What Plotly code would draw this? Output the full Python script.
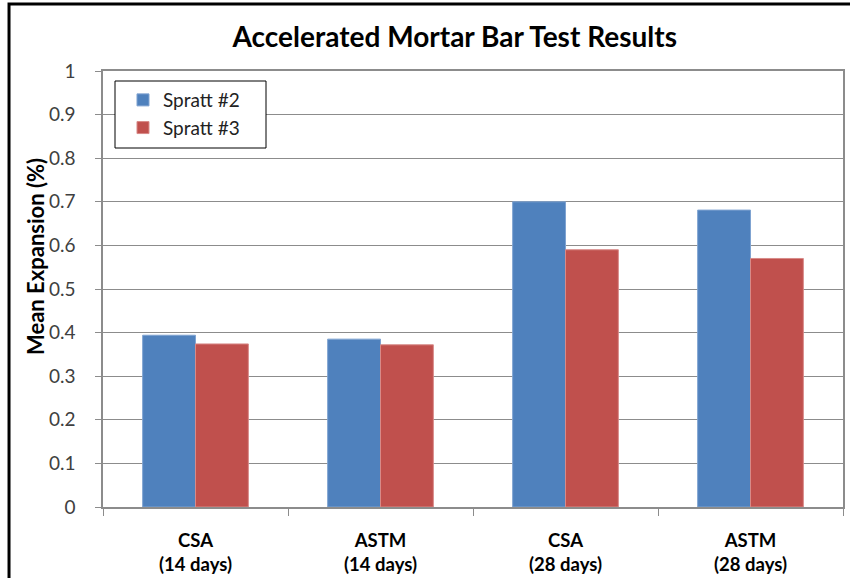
import plotly.graph_objects as go

categories = ["CSA<br>(14 days)", "ASTM<br>(14 days)", "CSA<br>(28 days)", "ASTM<br>(28 days)"]
spratt2 = [0.394, 0.385, 0.700, 0.681]
spratt3 = [0.374, 0.372, 0.590, 0.570]
y_ticks = [0, 0.1, 0.2, 0.3, 0.4, 0.5, 0.6, 0.7, 0.8, 0.9, 1]
y_tick_labels = ["0", "0.1", "0.2", "0.3", "0.4", "0.5", "0.6", "0.7", "0.8", "0.9", "1"]

FONT = "Lato, Open Sans, sans-serif"

fig = go.Figure()
fig.add_trace(go.Bar(x=categories, y=spratt2, name="Spratt #2", marker_color="#4F81BD",
                     marker_line=dict(color="#7FA3D1", width=1), legendgroup="a"))
fig.add_trace(go.Bar(x=categories, y=spratt3, name="Spratt #3", marker_color="#C0504D",
                     marker_line=dict(color="#D88A88", width=1), legendgroup="b"))

fig.update_layout(
    width=850, height=578,
    margin=dict(l=103, r=7, t=71, b=71, autoexpand=False),
    paper_bgcolor="white", plot_bgcolor="white",
    barmode="group", bargap=0.4286, bargroupgap=0,
    title=dict(text="<b>Accelerated Mortar Bar Test Results</b>", x=0.535, xanchor="center",
               y=0.935, yanchor="middle", font=dict(family=FONT, size=28, color="black")),
    font=dict(family=FONT, color="black"),
    legend=dict(x=0.0162, y=0.977, xanchor="left", yanchor="top",
                borderwidth=0, bgcolor="rgba(0,0,0,0)",
                font=dict(family=FONT, size=19, color="#222"),
                tracegroupgap=14, traceorder="normal", indentation=8),
    showlegend=True,
)
fig.update_xaxes(type="category", tickson="boundaries", ticks="outside", ticklen=7,
                 tickcolor="#8c8c8c", showline=True, linecolor="#8c8c8c", linewidth=1.5,
                 mirror=True, showgrid=False, automargin=False, ticklabelstandoff=16,
                 tickfont=dict(family=FONT, size=18.5, color="black"))
fig.update_xaxes(ticktext=["<b>" + c + "</b>" for c in categories], tickvals=categories)
fig.update_yaxes(range=[0, 1], tickvals=y_ticks, ticktext=y_tick_labels,
                 ticks="outside", ticklen=6, tickcolor="#8c8c8c",
                 showline=True, linecolor="#8c8c8c", linewidth=1.5, mirror=True,
                 showgrid=True, gridcolor="#8c8c8c", gridwidth=1.2,
                 zeroline=False, automargin=False, ticklabelstandoff=16,
                 tickfont=dict(family=FONT, size=19, color="#404040"))

fig.add_annotation(text="<b>Mean Expansion (%)</b>", textangle=-90, xref="paper", yref="paper",
                   x=(35 - 103) / 740, y=(507 - 257) / 436, xanchor="center", yanchor="middle",
                   showarrow=False, font=dict(family=FONT, size=22, color="black"))

# legend frame
fig.add_shape(type="rect", xref="paper", yref="paper",
              x0=(115 - 103) / 740, x1=(266 - 103) / 740,
              y0=(507 - 148) / 436, y1=(507 - 81) / 436,
              line=dict(color="black", width=1), fillcolor="white", layer="above")
# outer frame
fig.add_shape(type="rect", xref="paper", yref="paper", x0=-0.127, y0=-0.4, x1=1.5, y1=1.1537,
              line=dict(color="black", width=3), fillcolor="rgba(0,0,0,0)", layer="above")

fig.write_html("out.html", config={"displayModeBar": False},
               post_script="document.body.style.margin='0';")
